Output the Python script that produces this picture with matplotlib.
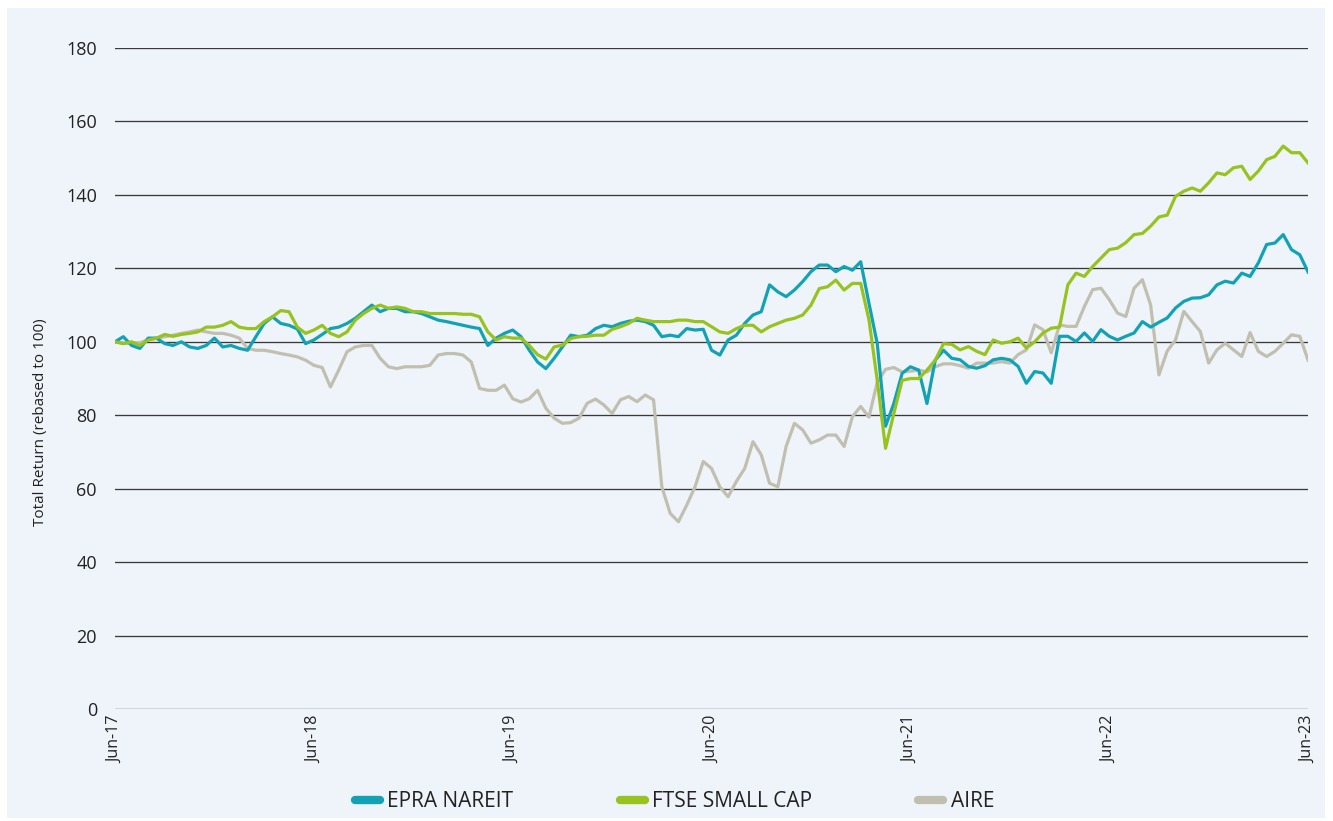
import matplotlib
matplotlib.use("Agg")
import matplotlib.pyplot as plt
from matplotlib.lines import Line2D
from matplotlib.patches import Rectangle
import numpy as np
import pandas as pd

plt.rcParams['font.family'] = ['Open Sans', 'DejaVu Sans']

# half-monthly observations, Jun-17 .. Jun-23 (rebased to 100)
dates = pd.date_range('2017-06-30', '2023-06-30', periods=145)

epra = [100, 101.4, 99, 98.2, 101, 101, 99.5, 99, 100, 98.6, 98.2, 99, 101, 98.6, 99, 98.2,
        97.7, 101.4, 105, 106.8, 105, 104.5, 103.5, 99.5, 100.5, 102, 103.6, 104, 105, 106.4,
        108.2, 110, 108.2, 109.1, 109.1, 108.2, 108.2, 107.7, 106.8, 105.9, 105.5, 105, 104.5,
        104, 103.6, 99, 101, 102.3, 103.2, 101.4, 97.7, 94.5, 92.7, 95.5, 98.6, 101.8, 101.4,
        101.8, 103.6, 104.5, 104.1, 105, 105.6, 105.9, 105.5, 104.5, 101.4, 101.8, 101.4, 103.6,
        103.2, 103.4, 97.7, 96.4, 100.5, 101.8, 105, 107.3, 108.2, 115.5, 113.6, 112.3, 114.1,
        116.4, 119.1, 120.9, 120.9, 119.1, 120.5, 119.5, 121.8, 110.5, 99.5, 77, 83.2, 91.4,
        93.2, 92.3, 83.2, 95, 97.7, 95.5, 95.1, 93.3, 92.8, 93.5, 95.1, 95.5, 95.1, 93.3, 88.7,
        91.9, 91.5, 88.7, 101.5, 101.5, 100.1, 102.4, 100.1, 103.3, 101.5, 100.5, 101.5, 102.4,
        105.5, 104, 105.3, 106.5, 109.2, 111, 111.9, 112, 112.8, 115.5, 116.5, 116, 118.7,
        117.8, 121.5, 126.5, 126.9, 129.2, 125.1, 123.7, 119]

ftse = [100, 99.5, 100, 99, 100.5, 101, 102, 101.5, 102, 102.3, 102.7, 104, 104, 104.5, 105.5,
        104, 103.6, 103.6, 105.5, 106.8, 108.5, 108.2, 104, 102.3, 103.2, 104.5, 102.3, 101.4,
        102.7, 105.9, 107.7, 109.1, 110, 109.1, 109.5, 109.1, 108.2, 108.2, 107.7, 107.7, 107.7,
        107.7, 107.5, 107.5, 106.8, 102.7, 100.5, 101.4, 101, 101, 99, 96.5, 95.3, 98.6, 99.1,
        100.9, 101.4, 101.5, 101.8, 101.8, 103.4, 104.1, 105, 106.4, 105.9, 105.5, 105.5, 105.5,
        105.9, 105.9, 105.5, 105.5, 104.1, 102.7, 102.3, 103.6, 104.5, 104.5, 102.7, 104.1, 105,
        105.9, 106.4, 107.3, 110, 114.5, 115, 116.8, 114.1, 115.9, 115.9, 106, 89.5, 71, 80.5,
        89.5, 90, 90, 92.3, 95, 99.5, 99.3, 97.8, 98.7, 97.4, 96.5, 100.5, 99.6, 100, 101, 98.3,
        100, 102.4, 103.7, 104, 115.5, 118.7, 117.8, 120.5, 122.8, 125.1, 125.5, 127, 129.2,
        129.5, 131.5, 134, 134.5, 139.6, 141, 141.9, 141, 143.3, 146, 145.5, 147.4, 147.8, 144.2,
        146.5, 149.6, 150.5, 153.3, 151.5, 151.5, 148.7]

aire = [100, 99.6, 99.6, 99.8, 100.5, 101, 101.4, 101.8, 102.3, 102.7, 103.2, 102.7, 102.3,
        102.3, 101.8, 101, 98.2, 97.7, 97.7, 97.3, 96.8, 96.4, 95.9, 95, 93.6, 93, 87.7, 92.3,
        97.3, 98.6, 99, 99, 95.5, 93.2, 92.7, 93.2, 93.2, 93.2, 93.6, 96.4, 96.8, 96.8, 96.4,
        94.5, 87.3, 86.8, 86.8, 88.2, 84.5, 83.6, 84.5, 86.8, 81.9, 79.2, 77.8, 78, 79.2, 83.3,
        84.4, 82.8, 80.5, 84.2, 85.1, 83.7, 85.5, 84.2, 60.5, 53.3, 51, 55.5, 60.5, 67.4, 65.5,
        60.5, 57.8, 62, 65.5, 72.8, 69.2, 61.5, 60.5, 71.5, 77.8, 76, 72.4, 73.3, 74.6, 74.6,
        71.5, 79.6, 82.4, 79.5, 89, 92.5, 93, 91.8, 92, 92.3, 91.8, 93.2, 94, 94, 93.5, 92.8,
        94.2, 94.2, 94.2, 94.6, 94.2, 96.5, 97.8, 104.6, 103.3, 97, 104.6, 104.2, 104.2, 109.6,
        114.2, 114.6, 111.5, 107.8, 106.9, 114.6, 116.9, 110, 91, 97.5, 100.5, 108.3, 105.5,
        102.8, 94.2, 97.8, 99.6, 97.8, 96, 102.5, 97.4, 96, 97.4, 99.6, 101.9, 101.5, 95]

tick_dates = pd.to_datetime(['2017-06-30', '2018-06-30', '2019-06-30', '2020-06-30',
                             '2021-06-30', '2022-06-30', '2023-06-30'])
tick_labels = ['Jun-17', 'Jun-18', 'Jun-19', 'Jun-20', 'Jun-21', 'Jun-22', 'Jun-23']
y_ticks = [0, 20, 40, 60, 80, 100, 120, 140, 160, 180]

c_epra = '#12a2b6'
c_ftse = '#98c21d'
c_aire = '#c1bfb0'
bg = '#eef4f9'
txt = '#222222'

fig = plt.figure(figsize=(13.33, 8.21), dpi=100, facecolor='white')
fig.patches.append(Rectangle((0.005, 0.004), 0.989, 0.986, transform=fig.transFigure,
                             facecolor=bg, edgecolor='none', zorder=-10))
ax = fig.add_axes([0.0863, 0.1364, 0.8950, 0.8051])
ax.set_facecolor('none')

for y in y_ticks:
    ax.axhline(y, color='#3a3a3a', lw=0.95, zorder=1)

ax.plot(dates, aire, color=c_aire, lw=2.3, zorder=2)
ax.plot(dates, epra, color=c_epra, lw=2.3, zorder=3)
ax.plot(dates, ftse, color=c_ftse, lw=2.3, zorder=4)

ax.set_xlim(tick_dates[0], tick_dates[-1])
ax.set_ylim(0, 180)
ax.set_yticks(y_ticks)
ax.set_yticklabels([str(v) for v in y_ticks], fontsize=13, color=txt)
ax.set_xticks(tick_dates)
ax.set_xticklabels(tick_labels, rotation=90, fontsize=11.5, color=txt)
ax.tick_params(axis='y', length=0, pad=13)
ax.tick_params(axis='x', length=0, pad=5)
for s in ax.spines.values():
    s.set_visible(False)

ax.set_ylabel('Total Return (rebased to 100)', fontsize=11, color=txt)
ax.yaxis.set_label_coords(-0.056, 0.434)

handles = [Line2D([], [], color=c_epra, lw=6, solid_capstyle='round'),
           Line2D([], [], color=c_ftse, lw=6, solid_capstyle='round'),
           Line2D([], [], color=c_aire, lw=6, solid_capstyle='round')]
fig.legend(handles, ['EPRA NAREIT', 'FTSE SMALL CAP', 'AIRE'], loc='center',
           bbox_to_anchor=(0.506, 0.024), ncol=3, frameon=False, fontsize=15,
           handlelength=1.2, handletextpad=0.35, columnspacing=5.1,
           labelcolor=txt)

fig.savefig('out.png', dpi=100, facecolor='white')
